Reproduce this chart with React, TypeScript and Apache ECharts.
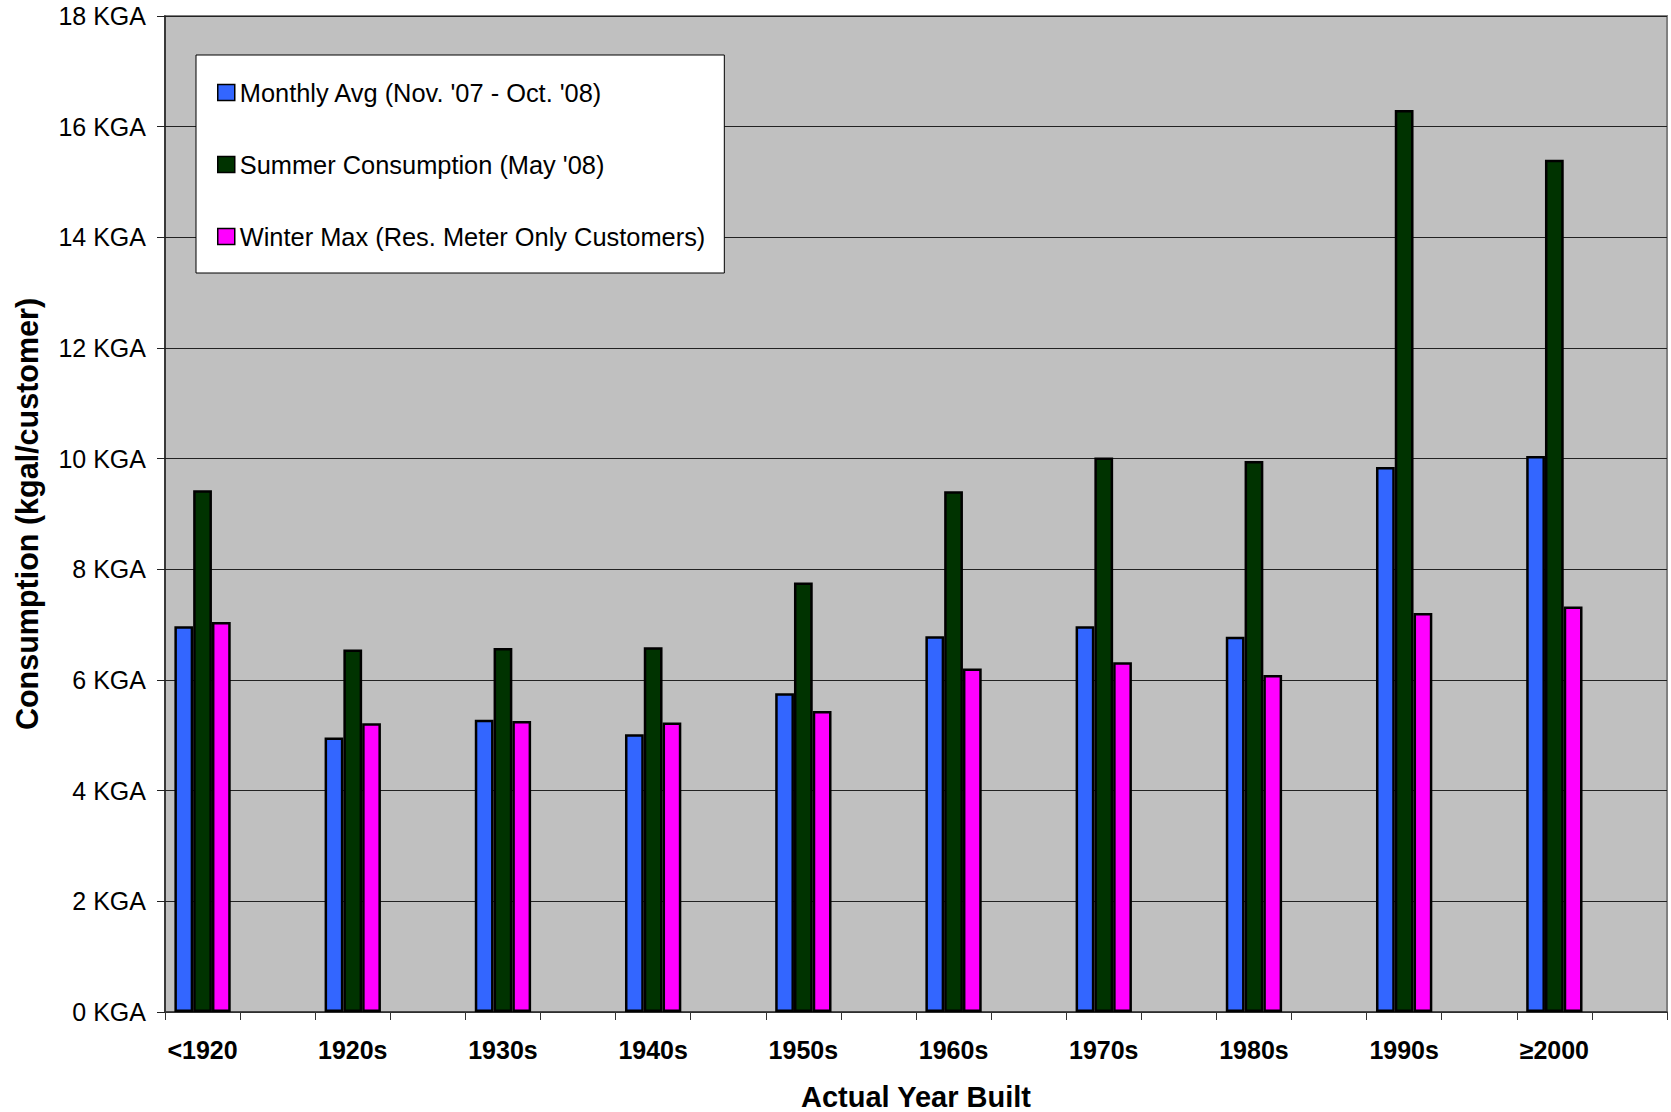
import React, { useEffect, useRef } from "react";
import * as echarts from "echarts";

const decades = ["<1920", "1920s", "1930s", "1940s", "1950s", "1960s", "1970s", "1980s", "1990s", "≥2000"];
const monthlyAvg = [6.97, 4.96, 5.28, 5.02, 5.76, 6.79, 6.97, 6.78, 9.85, 10.05];
const summer = [9.43, 6.55, 6.58, 6.59, 7.76, 9.41, 10.02, 9.96, 16.3, 15.4];
const winterMax = [7.05, 5.22, 5.26, 5.23, 5.44, 6.21, 6.32, 6.09, 7.21, 7.33];
const seriesNames = [
  "Monthly Avg (Nov. '07 - Oct. '08)",
  "Summer Consumption (May '08)",
  "Winter Max (Res. Meter Only Customers)",
];
const colors = ["#3366FF", "#003300", "#FF00FF"];

const FONT = 'Arial, "Liberation Sans", sans-serif';

// Each decade is followed by an empty slot (as in the original Excel layout)
const xCats: string[] = [];
decades.forEach((d) => {
  xCats.push(d);
  xCats.push("");
});
const spread = (arr: number[]) => {
  const out: (number | string)[] = [];
  arr.forEach((v) => {
    out.push(v);
    out.push("-");
  });
  return out;
};

export default function App() {
  const ref = useRef<HTMLDivElement>(null);
  useEffect(() => {
    if (!ref.current) return;
    const chart = echarts.init(ref.current, undefined, { renderer: "svg" });
    const data = [monthlyAvg, summer, winterMax];
    chart.setOption({
      animation: false,
      backgroundColor: "#ffffff",
      textStyle: { fontFamily: FONT },
      grid: {
        left: 165,
        right: 4,
        top: 16,
        bottom: 100,
        outerBoundsMode: "none",
        containLabel: false,
        show: true,
        backgroundColor: "#C0C0C0",
        borderColor: "#808080",
        borderWidth: 2,
      },
      legend: {
        orient: "vertical",
        left: 196,
        top: 55,
        backgroundColor: "#ffffff",
        borderColor: "#000000",
        borderWidth: 1,
        borderRadius: 0,
        padding: [25, 19, 24, 21],
        itemGap: 47,
        itemWidth: 17,
        itemHeight: 16,
        icon: "rect",
        itemStyle: { borderColor: "#000", borderWidth: 1.5 },
        textStyle: { fontSize: 25.4, color: "#000", fontFamily: FONT, lineHeight: 25 },
        data: seriesNames,
      },
      xAxis: {
        type: "category",
        data: xCats,
        name: "Actual Year Built",
        nameLocation: "middle",
        nameGap: 70,
        nameTextStyle: { fontSize: 29, fontWeight: "bold", color: "#000", fontFamily: FONT },
        axisLine: { lineStyle: { color: "#333", width: 1.5 } },
        axisTick: { show: true, interval: 0, length: 8, lineStyle: { color: "#333" } },
        axisLabel: {
          interval: 0,
          margin: 25,
          fontSize: 25,
          fontWeight: "bold",
          color: "#000",
          fontFamily: FONT,
        },
        splitLine: { show: false },
      },
      yAxis: {
        type: "value",
        min: 0,
        max: 18,
        interval: 2,
        name: "Consumption (kgal/customer)",
        nameLocation: "middle",
        nameGap: 123,
        nameTextStyle: { fontSize: 30.5, fontWeight: "bold", color: "#000", fontFamily: FONT },
        axisLine: { show: true, lineStyle: { color: "#222", width: 1.5 } },
        axisTick: { show: true, length: 8, lineStyle: { color: "#222" } },
        axisLabel: {
          formatter: "{value} KGA",
          fontSize: 25,
          margin: 19,
          color: "#000",
          fontFamily: FONT,
        },
        splitLine: { show: true, lineStyle: { color: "#222", width: 1 } },
      },
      series: seriesNames.map((name, i) => ({
        name,
        type: "bar",
        data: spread(data[i]),
        barGap: "0%",
        barCategoryGap: "25%",
        itemStyle: { color: colors[i], borderColor: "#000", borderWidth: 2.5 },
      })),
    });
    return () => chart.dispose();
  }, []);
  return (
    <div
      ref={ref}
      style={{ position: "absolute", left: 0, top: 0, width: 1671, height: 1112 }}
    />
  );
}
